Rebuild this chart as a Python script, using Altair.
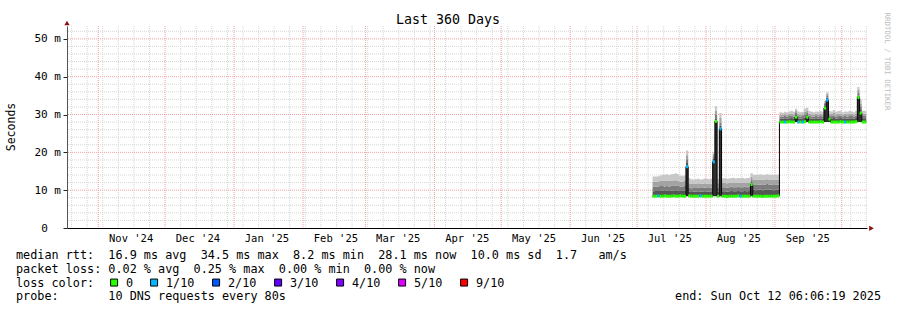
import altair as alt
import pandas as pd

FONT = "DejaVu Sans Mono"
NB = "\u00a0"

# ---------------- data ----------------
first_day = "2025-07-08"          # one consolidated row per day (UTC)
domain_start = "2024-10-17 22:30"  # 360-day window
domain_end = "2025-10-12 08:06"

median_ms = ([8.4, 8.4, 8.5, 8.4, 8.4, 8.5, 8.4, 8.4, 8.4, 8.5, 8.4, 8.4, 8.5, 8.4, 8.4]
             + [16.2]
             + [8.5, 8.4, 8.4, 8.4, 8.4, 8.5, 8.4, 8.4, 8.4, 8.4, 8.4]
             + [17.5, 28.2, 8.4, 26.2]
             + [8.4, 8.4, 8.3, 8.4, 8.4, 8.4, 8.4, 8.5, 8.4, 8.4, 8.4, 8.4, 8.4]
             + [11.5]
             + [8.4, 8.4, 8.4, 8.4, 8.3, 8.4, 8.4, 8.4, 8.4, 8.4, 8.4, 8.5]
             + [28.0, 28.0, 28.0, 28.0, 28.1, 28.0, 28.0, 29.3, 28.0, 28.0, 28.0, 28.1, 29.3,
                28.0, 28.0, 28.0, 28.0, 28.0, 28.1, 28.0, 31.7, 33.8, 28.8, 28.0, 28.0, 28.0,
                28.0, 28.1, 28.0, 28.0, 28.0, 28.0, 28.0, 28.0, 28.1, 34.5, 30.4, 28.0, 28.0])

low_ms = ([8.4, 8.4, 8.5, 8.4, 8.4, 8.5, 8.4, 8.4, 8.4, 8.5, 8.4, 8.4, 8.5, 8.4, 8.4]
          + [8.4]
          + [8.5, 8.4, 8.4, 8.4, 8.4, 8.5, 8.4, 8.4, 8.4, 8.4, 8.4]
          + [8.4, 8.4, 8.4, 8.4]
          + [8.4, 8.4, 8.3, 8.4, 8.4, 8.4, 8.4, 8.5, 8.4, 8.4, 8.4, 8.4, 8.4]
          + [8.4]
          + [8.4, 8.4, 8.4, 8.4, 8.3, 8.4, 8.4, 8.4, 8.4, 8.4, 8.4, 8.5]
          + [28.0, 28.0, 28.0, 28.0, 28.1, 28.0, 28.0, 28.0, 28.0, 28.0, 28.0, 28.1, 28.0,
             28.0, 28.0, 28.0, 28.0, 28.0, 28.1, 28.0, 28.0, 28.0, 28.0, 28.0, 28.0, 28.0,
             28.0, 28.1, 28.0, 28.0, 28.0, 28.0, 28.0, 28.0, 28.1, 28.0, 28.0, 28.0, 28.0])

smoke1_ms = ([9.7, 9.8, 9.8, 9.8, 9.9, 9.8, 9.9, 9.8, 9.9, 9.9, 10.0, 9.9, 9.8, 9.8, 9.9]
             + [17.2]
             + [9.6, 9.5, 9.6, 9.6, 9.7, 9.6, 9.6, 9.7, 9.6, 9.6, 9.7]
             + [18.3, 29.0, 9.6, 27.0]
             + [9.7, 9.7, 9.6, 9.7, 9.8, 9.7, 9.7, 9.8, 9.7, 9.7, 9.8, 9.7, 9.8]
             + [12.2]
             + [10.1, 10.0, 10.1, 10.1, 10.0, 10.1, 10.2, 10.1, 10.1, 10.0, 10.1, 10.1]
             + [28.9, 28.9, 29.0, 28.9, 29.0, 29.1, 28.9, 29.9, 29.0, 28.9, 29.0, 29.2, 29.9,
                29.0, 28.9, 28.9, 29.0, 28.9, 29.0, 28.9, 32.3, 34.4, 29.4, 29.0, 29.1, 28.9,
                29.0, 29.1, 28.9, 29.0, 28.9, 29.0, 29.0, 28.9, 29.1, 35.0, 31.2, 29.0, 29.0])

smoke2_ms = ([10.9, 11.0, 11.0, 11.1, 11.1, 11.0, 11.1, 11.0, 11.2, 11.1, 11.2, 11.1, 11.0, 11.0, 11.1]
             + [18.2]
             + [10.6, 10.5, 10.6, 10.6, 10.7, 10.6, 10.6, 10.7, 10.6, 10.6, 10.7]
             + [19.0, 29.9, 10.7, 27.9]
             + [10.8, 10.8, 10.7, 10.8, 10.9, 10.8, 10.8, 10.9, 10.8, 10.8, 10.9, 10.8, 10.9]
             + [12.9]
             + [11.5, 11.4, 11.5, 11.5, 11.4, 11.5, 11.6, 11.5, 11.5, 11.4, 11.5, 11.5]
             + [29.5, 29.5, 29.6, 29.5, 29.6, 29.7, 29.5, 30.4, 29.6, 29.5, 29.6, 29.9, 30.4,
                29.6, 29.5, 29.5, 29.6, 29.5, 29.6, 29.5, 32.8, 34.9, 29.8, 29.6, 29.7, 29.5,
                29.6, 29.7, 29.5, 29.6, 29.5, 29.6, 29.6, 29.5, 29.7, 35.7, 32.0, 29.6, 29.6])

smoke3_ms = ([12.2, 12.3, 12.3, 12.4, 12.5, 12.4, 12.5, 12.4, 12.5, 12.6, 12.6, 12.5, 12.3, 12.3, 12.4]
             + [19.2]
             + [11.8, 11.6, 11.6, 11.7, 11.8, 11.6, 11.7, 11.8, 11.7, 11.6, 11.7]
             + [19.6, 31.0, 11.8, 29.2]
             + [11.9, 11.9, 11.8, 11.9, 12.0, 11.9, 11.9, 12.0, 11.9, 11.9, 12.0, 11.9, 12.0]
             + [13.6]
             + [12.8, 12.7, 12.8, 12.8, 12.7, 12.8, 12.9, 12.8, 12.8, 12.7, 12.8, 12.8]
             + [30.0, 30.0, 30.1, 30.0, 30.2, 30.3, 30.1, 30.9, 30.2, 30.0, 30.1, 30.7, 30.9,
                30.2, 30.1, 30.0, 30.2, 30.1, 30.2, 30.0, 33.2, 35.4, 30.3, 30.2, 30.4, 30.1,
                30.2, 30.3, 30.0, 30.2, 30.1, 30.2, 30.2, 30.0, 30.3, 36.5, 32.9, 30.3, 30.2])

smoke4_ms = ([13.6, 13.6, 13.7, 13.9, 14.1, 14.1, 14.2, 14.0, 14.2, 14.3, 14.5, 14.2, 13.8, 13.8, 13.9]
             + [20.5]
             + [13.2, 12.9, 12.8, 12.9, 13.0, 12.8, 12.9, 13.1, 13.0, 12.9, 13.0]
             + [20.0, 32.2, 13.0, 30.4]
             + [13.1, 13.2, 13.0, 13.1, 13.2, 13.3, 13.1, 13.2, 13.2, 13.3, 13.1, 13.2, 13.3]
             + [14.5]
             + [14.1, 14.0, 14.1, 14.2, 14.0, 14.1, 14.2, 14.1, 14.1, 14.0, 14.1, 14.1]
             + [30.6, 30.5, 30.7, 30.6, 30.8, 31.0, 30.7, 31.5, 30.8, 30.6, 30.7, 31.6, 31.8,
                30.9, 30.7, 30.6, 30.8, 30.7, 30.9, 30.6, 33.6, 35.9, 31.0, 30.8, 31.2, 30.7,
                30.9, 31.0, 30.6, 30.8, 30.7, 30.9, 30.8, 30.6, 31.0, 37.3, 34.0, 31.0, 30.9])

# loss bucket per day (index into loss_labels)
loss_idx = ([0, 0, 1, 0, 0, 0, 0, 0, 0, 0, 0, 0, 0, 0, 0]
            + [1]
            + [0, 0, 0, 0, 0, 1, 0, 0, 0, 0, 0]
            + [1, 0, 0, 1]
            + [0, 0, 0, 0, 0, 0, 0, 0, 1, 0, 0, 0, 0]
            + [0]
            + [0, 0, 0, 0, 0, 0, 0, 0, 0, 0, 0, 0]
            + [0, 0, 1, 0, 0, 0, 0, 0, 1, 0, 1, 0, 0,
               0, 0, 0, 0, 0, 0, 0, 0, 1, 0, 0, 0, 0,
               0, 0, 0, 1, 0, 0, 0, 0, 0, 0, 0, 0, 0])

loss_labels = ["0", "1/10", "2/10", "3/10", "4/10", "5/10", "9/10"]
loss_colors = ["#26ff00", "#00b8ff", "#0059ff", "#5e00ff", "#7e00ff", "#dd00ff", "#ff0000"]

month_labels = ["Nov '24", "Dec '24", "Jan '25", "Feb '25", "Mar '25", "Apr '25",
                "May '25", "Jun '25", "Jul '25", "Aug '25", "Sep '25"]
month_label_at = ["2024-11-15 18:00", "2024-12-15 18:00", "2025-01-15 18:00", "2025-02-15 18:00",
                  "2025-03-15 18:00", "2025-04-15 18:00", "2025-05-15 18:00", "2025-06-15 18:00",
                  "2025-07-15 18:00", "2025-08-15 18:00", "2025-09-15 18:00"]

y_major = [10, 20, 30, 40, 50]
y_labels_at = [0, 10, 20, 30, 40, 50]

rtt_stats = [16.9, 34.5, 8.2, 28.1]   # avg, max, min, now
rtt_sd = 10.0
rtt_ams = 1.7
loss_stats = [0.02, 0.25, 0.00, 0.00]
probe_text = "10 DNS requests every 80s"
end_text = "end: Sun Oct 12 06:06:19 2025"
title_text = "Last 360 Days"
y_title = "Seconds"
credit_text = "RRDTOOL / TOBI OETIKER"

# ---------------- tables ----------------
def to_ms(s):
    return int(pd.Timestamp(s, tz="UTC").value // 10**6)

n = len(median_ms)
days = pd.date_range(first_day, periods=n + 1, freq="D", tz="UTC")
day_ms = [int(v // 10**6) for v in days.asi8]

df = pd.DataFrame({
    "t": day_ms[:-1], "t2": day_ms[1:], "med": median_ms, "lo": low_ms,
    "u1": smoke1_ms, "u2": smoke2_ms, "u3": smoke3_ms, "u4": smoke4_ms,
    "loss": [loss_labels[k] for k in loss_idx],
})
df_step = pd.concat([df, df.iloc[[-1]].assign(t=day_ms[-1])], ignore_index=True)

# grid positions: weekly (Sundays) grey, month starts red
weeks = pd.date_range("2024-10-20", "2025-10-12", freq="W-SUN", tz="UTC")
months = pd.date_range("2024-11-01", "2025-10-01", freq="MS", tz="UTC")
month_ms = [int(v // 10**6) for v in months.asi8]
week_ms = [int(v // 10**6) for v in weeks.asi8 if int(v // 10**6) not in month_ms]
y_minor = [v for v in range(2, 53, 2) if v % 10 != 0]

x_scale = alt.Scale(type="utc", domain=[to_ms(domain_start), to_ms(domain_end)])
y_scale = alt.Scale(domain=[0, 53.4], nice=False, zero=False)

# identical axis definitions on every layer (so merged axes never conflict)
x_axis = alt.Axis(grid=False, labels=False, ticks=False, domain=True,
                  domainColor="#000000", domainWidth=1, title=None)
y_axis = alt.Axis(
    values=y_labels_at, grid=False, ticks=True, tickSize=4, tickColor="#222222", tickWidth=1,
    labelExpr="datum.value == 0 ? '0' : datum.value + ' m'",
    labelFont=FONT, labelFontSize=11, labelColor="#000000",
    labelPadding={"condition": {"test": "datum.value == 0", "value": 15.7}, "value": 2.5},
    domain=True, domainColor="#555555", domainWidth=1,
    title=y_title, titleFont=FONT, titleFontSize=11.5, titleFontWeight="normal", titleColor="#000000",
    titleX=-55.5, titleY=100.5, titleAngle=270, titleAlign="center", titleBaseline="middle",
)

X = alt.X("t:T", scale=x_scale, axis=x_axis)


def Y(f):
    return alt.Y(f"{f}:Q", scale=y_scale, axis=y_axis)


GRID_GREY = "#d6d6d6"
GRID_RED = "#f2a0a0"

vweek = alt.Chart(pd.DataFrame({"t": week_ms})).mark_rule(
    color=GRID_GREY, strokeDash=[1, 1], strokeWidth=1).encode(x=X)
hminor = alt.Chart(pd.DataFrame({"v": y_minor})).mark_rule(
    color=GRID_GREY, strokeDash=[1, 1], strokeWidth=1).encode(y=Y("v"))
vmonth = alt.Chart(pd.DataFrame({"t": month_ms})).mark_rule(
    color=GRID_RED, strokeDash=[1, 1], strokeWidth=1).encode(x=X)
hmajor = alt.Chart(pd.DataFrame({"v": y_major})).mark_rule(
    color=GRID_RED, strokeDash=[1, 1], strokeWidth=1).encode(y=Y("v"))

base = alt.Chart(df_step)

smoke_lo = base.mark_area(interpolate="step-after", color="#2e2e2e").encode(x=X, y=Y("lo"), y2="med:Q")
smoke_a = base.mark_area(interpolate="step-after", color="#555555").encode(x=X, y=Y("med"), y2="u1:Q")
smoke_b = base.mark_area(interpolate="step-after", color="#7c7c7c").encode(x=X, y=Y("u1"), y2="u2:Q")
smoke_c = base.mark_area(interpolate="step-after", color="#a3a3a3").encode(x=X, y=Y("u2"), y2="u3:Q")
smoke_d = base.mark_area(interpolate="step-after", color="#c8c8c8").encode(x=X, y=Y("u3"), y2="u4:Q")

median_line = base.mark_line(interpolate="step-after", color="#000000", strokeWidth=1).encode(x=X, y=Y("med"))

loss_scale = alt.Scale(domain=loss_labels, range=loss_colors)
median_loss = alt.Chart(df).mark_rect(yOffset=-1.5, y2Offset=1.5).encode(
    x=X, x2="t2:T", y=Y("med"), y2="med:Q",
    color=alt.Color("loss:N", scale=loss_scale, legend=alt.Legend(
        orient="none", legendX=41.2, legendY=250.5, direction="horizontal", title=None,
        symbolType="square", symbolSize=49, symbolStrokeColor="#000000", symbolStrokeWidth=1,
        symbolOpacity=1, labelFont=FONT, labelFontSize=11.8, labelColor="#000000",
        labelOffset=6, columnPadding=15, padding=0, rowPadding=0)))

month_df = pd.DataFrame({"t": [to_ms(s) for s in month_label_at], "label": month_labels})
month_text = alt.Chart(month_df).mark_text(font=FONT, fontSize=10.5, color="#000000", baseline="middle").encode(
    x=X, y=alt.value(212.7), text="label:N")

line1 = (f"median rtt:  {rtt_stats[0]:.1f} ms avg  {rtt_stats[1]:.1f} ms max  {rtt_stats[2]:.1f} ms min  "
         f"{rtt_stats[3]:.1f} ms now  {rtt_sd:.1f} ms sd  {rtt_ams:.1f}   am/s")
line2 = (f"packet loss: {loss_stats[0]:.2f} % avg  {loss_stats[1]:.2f} % max  "
         f"{loss_stats[2]:.2f} % min  {loss_stats[3]:.2f} % now")
line3 = "loss color:"
line4 = "probe:       " + probe_text


def text_layer(s, x, y, align="left", size=11.8, color="#000000", angle=0, baseline="alphabetic"):
    d = pd.DataFrame({"s": [s.replace(" ", NB)]})
    return alt.Chart(d).mark_text(font=FONT, fontSize=size, color=color, align=align,
                                  baseline=baseline, angle=angle).encode(
        x=alt.value(x), y=alt.value(y), text="s:N")


texts = [
    text_layer(line1, -51, 232.5),
    text_layer(line2, -51, 246.5),
    text_layer(line3, -51, 260.7),
    text_layer(line4, -51, 274.2),
    text_layer(end_text, 814, 274.2, align="right"),
    text_layer(title_text, 381, -2.2, align="center", size=13.3),
    text_layer(credit_text, 820.3, 35.5, align="center", size=7.4, color="#bdbdbd", angle=90,
               baseline="middle"),
]

arrow_df = pd.DataFrame({"a": [0]})
arrow_up = alt.Chart(arrow_df).mark_point(shape="triangle-up", filled=True, color="#8b1010", size=28, opacity=1).encode(
    x=alt.value(0), y=alt.value(-3))
arrow_right = alt.Chart(arrow_df).mark_point(shape="triangle-right", filled=True, color="#8b1010", size=28, opacity=1).encode(
    x=alt.value(804.5), y=alt.value(202.3))

chart = alt.layer(
    vweek, hminor, vmonth, hmajor,
    smoke_lo, smoke_a, smoke_b, smoke_c, smoke_d, median_line, median_loss,
    month_text, *texts, arrow_up, arrow_right,
).properties(
    width=800, height=202,
    autosize=alt.AutoSizeParams(type="none"),
    padding={"left": 67, "top": 26, "right": 30, "bottom": 82},
    background="#ffffff",
).configure_view(stroke=None)

chart.save("out.html", embed_options={"renderer": "svg", "actions": False})
